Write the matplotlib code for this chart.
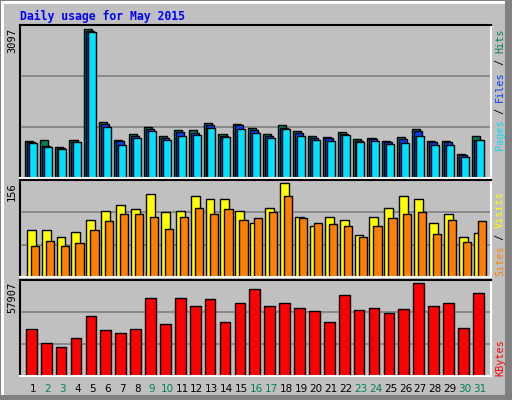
import matplotlib
matplotlib.use("Agg")
import matplotlib.pyplot as plt
from matplotlib.patches import Rectangle
import numpy as np

days = list(range(1, 32))
weekend = [2, 3, 9, 10, 16, 17, 23, 24, 30, 31]

hits = [773, 794, 648, 794, 3097, 1170, 794, 920, 1066, 878, 1003, 1003, 1150, 920, 1129, 1045,
        920, 1108, 982, 878, 857, 961, 815, 836, 773, 857, 1024, 773, 773, 502, 878]
files = [752, 669, 627, 752, 3072, 1129, 773, 878, 1024, 836, 961, 940, 1108, 878, 1108, 1003,
         878, 1045, 940, 836, 836, 920, 773, 815, 752, 815, 982, 752, 752, 481, 794]
pages = [732, 648, 606, 752, 3051, 1066, 690, 836, 982, 794, 878, 899, 1045, 857, 1024, 940,
         836, 1024, 878, 794, 773, 899, 752, 773, 711, 732, 878, 690, 690, 439, 794]
visits = [78, 78, 67, 75, 95, 110, 120, 112, 137, 107, 109, 135, 130, 130, 109, 89,
          115, 156, 99, 84, 99, 95, 70, 100, 114, 135, 130, 89, 104, 67, 73]
sites = [52, 60, 52, 57, 78, 92, 105, 104, 100, 80, 100, 115, 105, 112, 94, 97,
         107, 135, 97, 89, 87, 85, 67, 84, 97, 104, 107, 72, 95, 58, 92]
kbytes = [28934, 20757, 18241, 23902, 37111, 28305, 26418, 28934, 48433, 32079, 48433, 43401,
          47804, 33337, 45288, 54094, 43401, 45288, 42143, 40256, 33337, 50320, 40885, 42143,
          38998, 41514, 57907, 43401, 45288, 29563, 51578]

W, H = 512, 400
BG = '#C0C0C0'
fig = plt.figure(figsize=(W / 100, H / 100), dpi=100, facecolor=BG)

# bevelled frame
fig.patches.append(Rectangle((0, 0), 1, 1, transform=fig.transFigure, fc='none', ec='#808080', lw=3))
fig.patches.append(Rectangle((1 / W, 0), 3 / W, 1 - 1 / H, transform=fig.transFigure, fc='white', ec='none'))
fig.patches.append(Rectangle((1 / W, 1 - 4 / H), 1 - 8 / W, 3 / H, transform=fig.transFigure, fc='white', ec='none'))
fig.patches.append(Rectangle((1 - 7 / W, 0), 7 / W, 1, transform=fig.transFigure, fc='#808080', ec='none'))
fig.patches.append(Rectangle((0, 0), 1, 5 / H, transform=fig.transFigure, fc='#808080', ec='none'))


def panel(top, bottom, ymax):
    ax = fig.add_axes([20 / W, 1 - bottom / H, 471 / W, (bottom - top) / H])
    ax.set_facecolor(BG)
    ax.set_xlim(0.13, 31.74)
    ax.set_ylim(0, ymax * 1.03)
    ax.set_xticks([])
    ax.set_yticks([ymax * 1.03 / 3, 2 * ymax * 1.03 / 3])
    ax.tick_params(left=False, labelleft=False)
    ax.grid(axis='y', color='#808080', lw=1.2)
    ax.set_axisbelow(True)
    for s in ['top', 'left']:
        ax.spines[s].set_color('black')
        ax.spines[s].set_linewidth(1.5)
    for s in ['bottom', 'right']:
        ax.spines[s].set_color('white')
        ax.spines[s].set_linewidth(1.5)
    return ax


x = np.array(days)

ax1 = panel(25, 178, 3097)
ax1.bar(x - 0.55, hits, 0.54, align='edge', color='#00805C', edgecolor='black', lw=1)
ax1.bar(x - 0.42, files, 0.54, align='edge', color='#0040FF', edgecolor='black', lw=1)
ax1.bar(x - 0.29, pages, 0.54, align='edge', color='#00E0FF', edgecolor='black', lw=1)

ax2 = panel(180, 277, 156)
ax2.bar(x - 0.42, visits, 0.6, align='edge', color='#FFFF00', edgecolor='black', lw=1)
ax2.bar(x - 0.15, sites, 0.55, align='edge', color='#FF8000', edgecolor='black', lw=1)

ax3 = panel(280, 376, 57907)
ax3.bar(x - 0.47, kbytes, 0.72, align='edge', color='#FF0000', edgecolor='black', lw=1)

mono = 'DejaVu Sans Mono'
fig.text(20 / W, 1 - 16 / H, 'Daily usage for May 2015', family=mono, weight='bold',
         fontsize=8.3, color='#0000FF', va='center')

for val, top in [('3097', 28), ('156', 182), ('57907', 282)]:
    fig.text(12 / W, 1 - top / H, val, family=mono, fontsize=7.5, rotation=90,
             ha='center', va='top')


def right_label(pieces, bottom_px):
    y = bottom_px
    for txt, col in pieces:
        fig.text(500 / W, 1 - y / H, txt, family=mono, fontsize=7.3, rotation=90,
                 color=col, ha='center', va='bottom')
        y -= 6.05 * len(txt)


right_label([('Pages', '#00E0FF'), (' / ', 'black'), ('Files', '#0040FF'),
             (' / ', 'black'), ('Hits', '#00805C')], 150)
right_label([('Sites', '#FF8000'), (' / ', 'black'), ('Visits', '#FFFF00')], 276)
right_label([('KBytes', '#FF0000')], 376)

for d in days:
    col = '#00805C' if d in weekend else 'black'
    fig.text((20 + (d - 0.13) * 471 / 31.61) / W, 1 - 389 / H, str(d), fontsize=7.5,
             color=col, ha='center', va='center')

fig.savefig('out.png', dpi=100, facecolor=BG)
